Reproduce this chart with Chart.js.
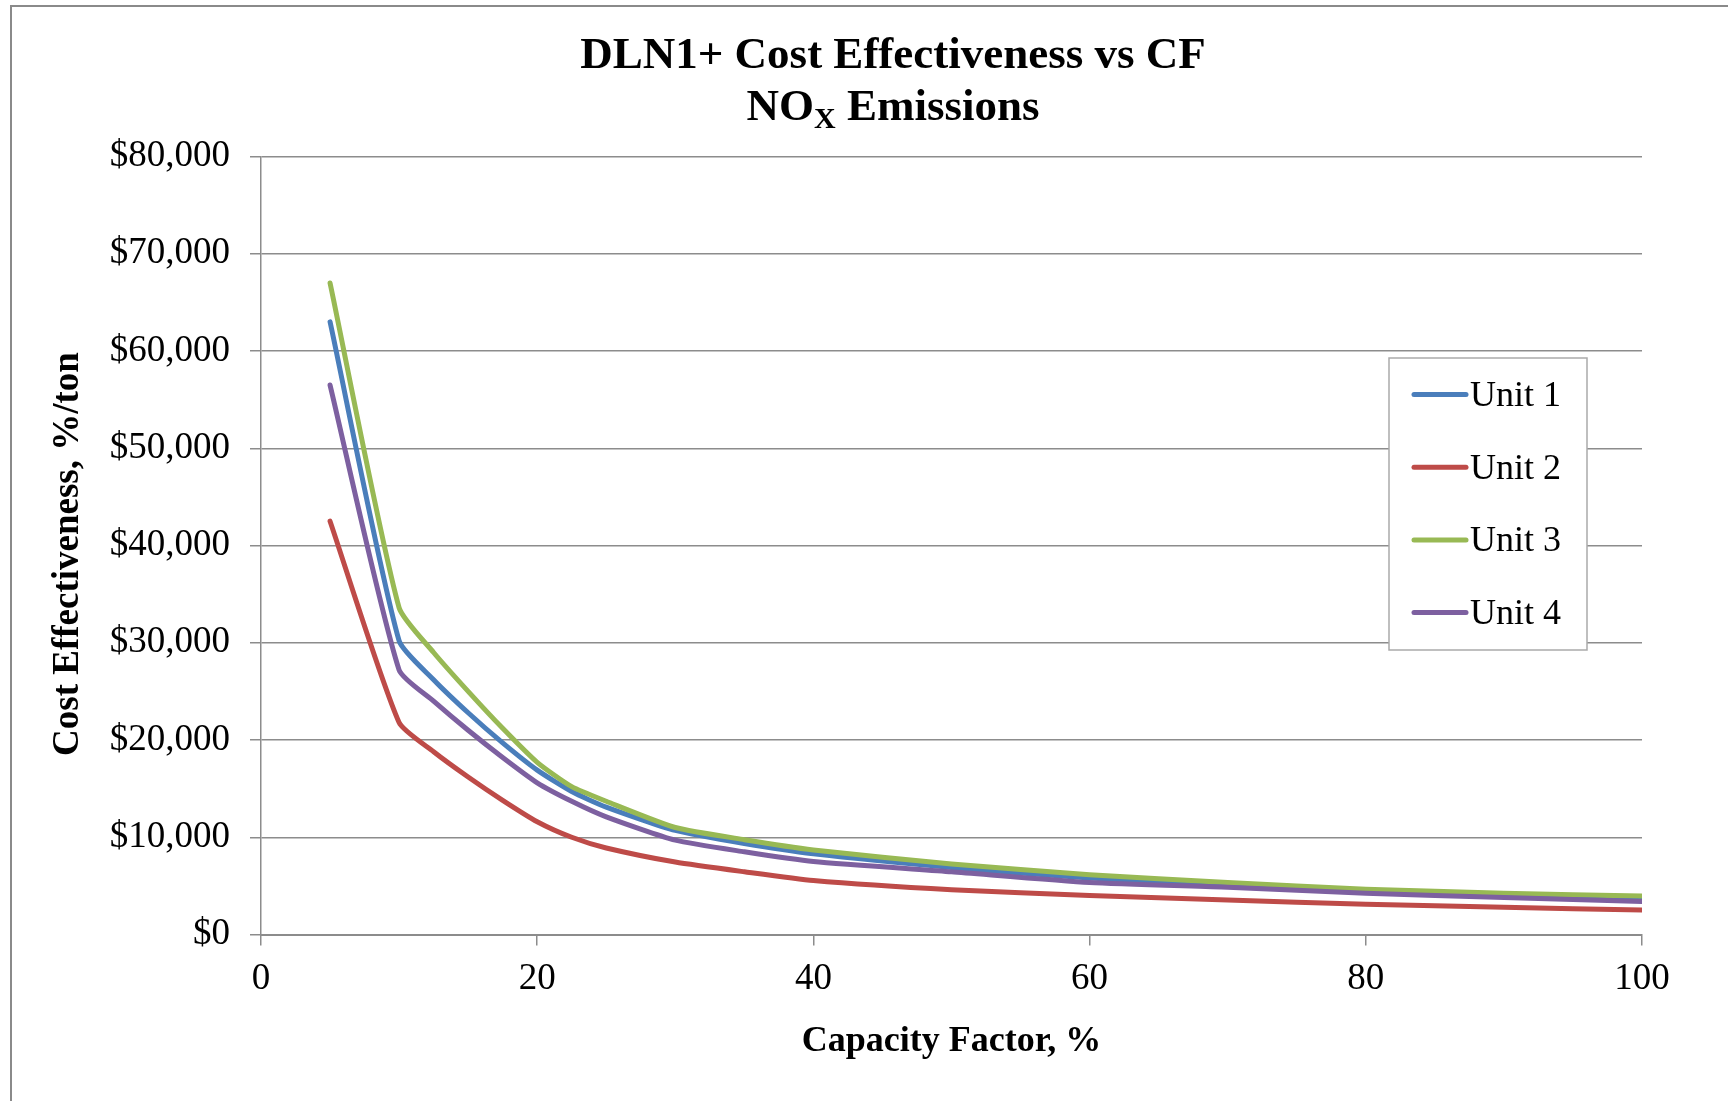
<!DOCTYPE html>
<html lang="en">
<head>
    <meta charset="UTF-8">
    <title>DLN1+ Cost Effectiveness vs CF</title>
    <script src="https://cdn.jsdelivr.net/npm/chart.js"></script>
    <style>
        html, body { margin: 0; padding: 0; background: #fff; }
        .container { width: 1728px; height: 1101px; position: relative; }
    </style>
</head>
<body>
    <div class="container">
        <canvas id="cfChart"></canvas>
    </div>

    <script>
        // capacity factor, %
        const capacityFactor = [5, 10, 12.5, 15, 17.5, 20, 22.5, 25, 30, 35, 40, 50, 60, 70, 80, 90, 100];

        // cost effectiveness, $/ton
        const unit1 = [63000, 30200, 26200, 22800, 19700, 16900, 14700, 13100, 10700, 9350, 8300, 6900, 5800, 5100, 4450, 4050, 3700];
        const unit2 = [42500, 21800, 18800, 16200, 13800, 11600, 10000, 8900, 7450, 6450, 5550, 4600, 4000, 3550, 3100, 2800, 2520];
        const unit3 = [67000, 33600, 29000, 25000, 21200, 17700, 15200, 13700, 11000, 9750, 8700, 7250, 6150, 5350, 4650, 4250, 3950];
        const unit4 = [56500, 27200, 24000, 21000, 18200, 15600, 13700, 12100, 9700, 8500, 7500, 6450, 5350, 4850, 4250, 3800, 3400];

        const seriesNames = ['Unit 1', 'Unit 2', 'Unit 3', 'Unit 4'];
        const seriesColors = ['#4A7EBB', '#BE4B48', '#98B954', '#7D60A0'];
        const xTicks = [0, 20, 40, 60, 80, 100];
        const yTicks = [0, 10000, 20000, 30000, 40000, 50000, 60000, 70000, 80000];

        const serif = '"Liberation Serif", "Times New Roman", serif';
        const gridGray = '#8c8c8c';

        const toPoints = (vals) => vals.map((v, i) => ({ x: capacityFactor[i], y: v }));

        const datasets = [unit1, unit2, unit3, unit4].map((vals, i) => ({
            label: seriesNames[i],
            data: toPoints(vals),
            borderColor: seriesColors[i],
            backgroundColor: seriesColors[i],
            borderWidth: 5,
            pointRadius: 0,
            tension: 0.2,
            borderCapStyle: 'round',
            borderJoinStyle: 'round',
            order: 4 - i   // later units drawn on top, like the original
        }));

        // title, y title, frame and legend drawn by hand
        const decorPlugin = {
            id: 'decor',
            beforeDraw(chart) {
                const ctx = chart.ctx;
                ctx.save();
                ctx.strokeStyle = '#8a8a8a';
                ctx.lineWidth = 2;
                ctx.beginPath();
                ctx.moveTo(11, 1101);
                ctx.lineTo(11, 6);
                ctx.lineTo(1728, 6);
                ctx.stroke();
                ctx.restore();
            },
            afterDraw(chart) {
                const ctx = chart.ctx;
                ctx.save();
                ctx.fillStyle = '#000';
                ctx.textBaseline = 'middle';

                // title line 1
                ctx.font = 'bold 45px ' + serif;
                ctx.textAlign = 'center';
                ctx.fillText('DLN1+ Cost Effectiveness vs CF', 893, 56);

                // title line 2 with subscript
                const bigFont = 'bold 45px ' + serif;
                const subFont = 'bold 30px ' + serif;
                ctx.font = bigFont;
                const wNO = ctx.measureText('NO').width;
                const wRest = ctx.measureText(' Emissions').width;
                ctx.font = subFont;
                const wX = ctx.measureText('X').width;
                let x = 893 - (wNO + wX + wRest) / 2;
                ctx.textAlign = 'left';
                ctx.font = bigFont;
                ctx.fillText('NO', x, 108);
                x += wNO;
                ctx.font = subFont;
                ctx.fillText('X', x, 120);
                x += wX;
                ctx.font = bigFont;
                ctx.fillText(' Emissions', x, 108);

                // y axis title
                ctx.save();
                ctx.translate(68, 554);
                ctx.rotate(-Math.PI / 2);
                ctx.textAlign = 'center';
                ctx.font = 'bold 37px ' + serif;
                ctx.fillText('Cost Effectiveness, %/ton', 0, 0);
                ctx.restore();

                // legend box
                const bx = 1389, by = 358, bw = 198, bh = 292;
                ctx.fillStyle = '#fff';
                ctx.fillRect(bx, by, bw, bh);
                ctx.strokeStyle = '#aaaaaa';
                ctx.lineWidth = 1.5;
                ctx.strokeRect(bx, by, bw, bh);

                ctx.font = '36px ' + serif;
                ctx.lineCap = 'round';
                ctx.textAlign = 'left';
                chart.data.datasets.forEach((ds, i) => {
                    const y = 394.5 + i * 72.7;
                    ctx.strokeStyle = ds.borderColor;
                    ctx.lineWidth = 5;
                    ctx.beginPath();
                    ctx.moveTo(1414, y);
                    ctx.lineTo(1466, y);
                    ctx.stroke();
                    ctx.fillStyle = '#000';
                    ctx.fillText(ds.label, 1470, y + 2);
                });
                ctx.restore();
            }
        };

        new Chart(document.getElementById('cfChart'), {
            type: 'line',
            data: { datasets: datasets },
            plugins: [decorPlugin],
            options: {
                responsive: true,
                maintainAspectRatio: false,
                animation: false,
                layout: { padding: { top: 156.5, right: 86, bottom: 0, left: 0 } },
                plugins: {
                    legend: { display: false },
                    tooltip: { enabled: false }
                },
                scales: {
                    x: {
                        type: 'linear',
                        min: 0,
                        max: 100,
                        afterBuildTicks: (scale) => { scale.ticks = xTicks.map(v => ({ value: v })); },
                        afterFit: (scale) => { scale.height = 166.5; },
                        ticks: {
                            font: { family: serif, size: 37 },
                            color: '#000',
                            padding: 12,
                            maxRotation: 0
                        },
                        grid: {
                            drawOnChartArea: false,
                            drawTicks: true,
                            tickLength: 11,
                            color: gridGray,
                            lineWidth: 1.5
                        },
                        border: { display: true, color: gridGray, width: 2 },
                        title: {
                            display: true,
                            text: 'Capacity Factor, %',
                            font: { family: serif, size: 36, weight: 'bold' },
                            color: '#000',
                            padding: { top: 0, bottom: 38 }
                        }
                    },
                    y: {
                        type: 'linear',
                        min: 0,
                        max: 80000,
                        afterBuildTicks: (scale) => { scale.ticks = yTicks.map(v => ({ value: v })); },
                        afterFit: (scale) => { scale.width = 261; },
                        ticks: {
                            font: { family: serif, size: 37 },
                            color: '#000',
                            padding: 20,
                            callback: (v) => '$' + Number(v).toLocaleString('en-US')
                        },
                        grid: {
                            drawOnChartArea: true,
                            drawTicks: true,
                            tickLength: 11,
                            color: gridGray,
                            lineWidth: 1.5
                        },
                        border: { display: true, color: gridGray, width: 1.5 }
                    }
                }
            }
        });
    </script>
</body>
</html>
